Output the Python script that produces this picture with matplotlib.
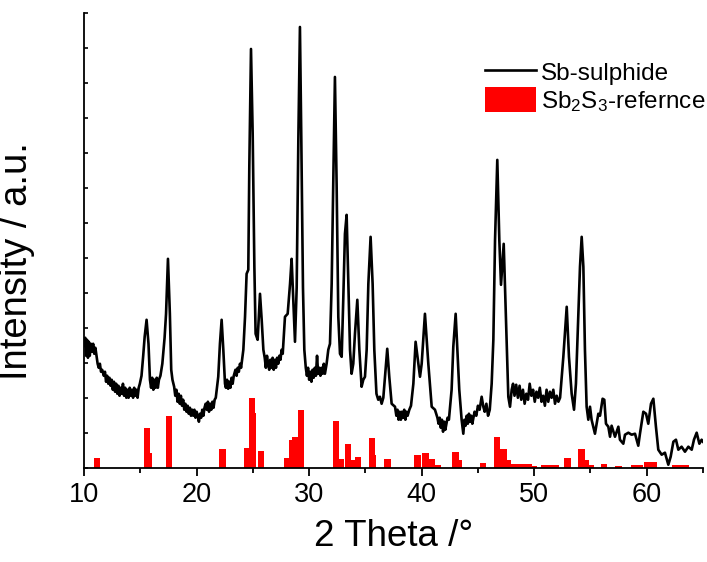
import matplotlib
matplotlib.use("Agg")
import matplotlib.pyplot as plt
from matplotlib.patches import Patch
from matplotlib.lines import Line2D
from matplotlib.ticker import MultipleLocator

plt.rcParams['font.family'] = ['Liberation Sans', 'DejaVu Sans']

# measured pattern (2 theta in degrees, intensity a.u.)
two_theta = [
    10.00, 10.10, 10.18, 10.26, 10.34, 10.42, 10.50, 10.60, 10.70, 10.80,
    10.90, 11.00, 11.10, 11.20, 11.30, 11.40, 11.50, 11.60, 11.75, 11.85,
    11.95, 12.05, 12.15, 12.25, 12.35, 12.45, 12.55, 12.65, 12.75, 12.85,
    12.95, 13.05, 13.15, 13.25, 13.35, 13.45, 13.55, 13.65, 13.75, 13.85,
    13.95, 14.05, 14.15, 14.25, 14.35, 14.45, 14.55, 14.65, 14.75, 14.85,
    14.95, 15.10, 15.25, 15.38, 15.55, 15.72, 15.85, 15.95, 16.05, 16.15,
    16.25, 16.35, 16.45, 16.55, 16.65, 16.78, 16.95, 17.15, 17.28, 17.45,
    17.62, 17.74, 17.85, 18.00, 18.10, 18.20, 18.30, 18.40, 18.50, 18.60,
    18.70, 18.80, 18.90, 19.00, 19.10, 19.20, 19.30, 19.40, 19.50, 19.60,
    19.70, 19.80, 19.90, 20.00, 20.10, 20.20, 20.30, 20.40, 20.50, 20.60,
    20.70, 20.80, 20.90, 21.00, 21.10, 21.20, 21.30, 21.40, 21.50, 21.60,
    21.70, 21.92, 22.07, 22.22, 22.37, 22.52, 22.60, 22.70, 22.80, 22.90,
    23.00, 23.10, 23.20, 23.30, 23.45, 23.55, 23.65, 23.75, 23.85, 23.95,
    24.15, 24.30, 24.44, 24.59, 24.68, 24.83, 24.98, 25.13, 25.24, 25.42,
    25.63, 25.78, 25.93, 26.05, 26.15, 26.25, 26.35, 26.45, 26.55, 26.65,
    26.75, 26.85, 26.95, 27.05, 27.15, 27.25, 27.35, 27.45, 27.55, 27.65,
    27.85, 28.09, 28.30, 28.44, 28.59, 28.74, 28.89, 29.04, 29.18, 29.30,
    29.45, 29.57, 29.70, 29.80, 29.90, 30.00, 30.10, 30.20, 30.30, 30.40,
    30.50, 30.60, 30.70, 30.80, 30.90, 31.00, 31.10, 31.20, 31.30, 31.40,
    31.55, 31.70, 31.85, 32.00, 32.14, 32.29, 32.44, 32.59, 32.74, 32.89,
    33.03, 33.18, 33.33, 33.48, 33.63, 33.77, 33.92, 34.07, 34.28, 34.46,
    34.66, 34.81, 34.96, 35.11, 35.26, 35.46, 35.64, 35.79, 35.98, 36.14,
    36.29, 36.44, 36.59, 36.74, 36.94, 37.12, 37.33, 37.63, 37.75, 37.85,
    37.95, 38.05, 38.15, 38.25, 38.35, 38.45, 38.55, 38.65, 38.75, 38.90,
    39.05, 39.26, 39.46, 39.70, 39.85, 40.00, 40.29, 40.59, 40.89, 41.18,
    41.40, 41.50, 41.60, 41.70, 41.80, 41.90, 42.00, 42.10, 42.20, 42.30,
    42.42, 42.66, 42.81, 43.02, 43.20, 43.34, 43.55, 43.70, 43.80, 43.90,
    44.00, 44.10, 44.20, 44.30, 44.40, 44.50, 44.60, 44.70, 44.85, 45.00,
    45.15, 45.33, 45.48, 45.60, 45.75, 45.90, 46.05, 46.22, 46.37, 46.52,
    46.72, 46.90, 47.05, 47.29, 47.46, 47.70, 47.85, 48.00, 48.12, 48.25,
    48.40, 48.55, 48.70, 48.85, 49.00, 49.15, 49.30, 49.45, 49.60, 49.75,
    49.90, 50.05, 50.20, 50.35, 50.50, 50.65, 50.80, 50.95, 51.10, 51.25,
    51.40, 51.55, 51.70, 51.85, 52.00, 52.15, 52.30, 52.59, 52.89, 53.09,
    53.33, 53.54, 53.71, 53.92, 54.07, 54.22, 54.37, 54.51, 54.66, 54.81,
    54.96, 55.10, 55.40, 55.70, 55.85, 56.08, 56.23, 56.38, 56.59, 56.74,
    56.88, 57.18, 57.48, 57.62, 57.92, 58.07, 58.37, 58.66, 58.96, 59.25,
    59.40, 59.70, 59.94, 60.14, 60.38, 60.59, 60.82, 61.03, 61.33, 61.62,
    61.92, 62.13, 62.37, 62.60, 62.81, 63.10, 63.40, 63.70, 64.00, 64.20,
    64.44, 64.68, 64.88, 65.00,
]
intensity = [
    122, 130, 112, 128, 110, 126, 112, 124, 116, 124,
    114, 120, 112, 104, 100, 104, 96, 98, 92, 96,
    86, 92, 84, 90, 82, 88, 78, 86, 76, 84,
    74, 82, 72, 80, 74, 84, 72, 80, 70, 78,
    70, 80, 72, 78, 70, 80, 72, 78, 70, 80,
    84, 92, 112, 131, 148, 124, 88, 80, 90, 78,
    88, 80, 90, 80, 88, 92, 104, 130, 154, 209,
    154, 98, 88, 81, 72, 78, 66, 74, 64, 72,
    62, 68, 58, 64, 56, 62, 54, 60, 52, 58,
    52, 58, 50, 56, 52, 46, 54, 50, 58, 52,
    60, 64, 58, 66, 56, 64, 58, 66, 60, 68,
    70, 91, 124, 148, 118, 84, 80, 88, 79, 86,
    80, 90, 84, 92, 98, 92, 100, 96, 104, 100,
    118, 151, 194, 198, 301, 419, 334, 201, 134, 128,
    174, 148, 118, 110, 100, 112, 104, 98, 108, 100,
    110, 98, 108, 100, 110, 104, 112, 108, 118, 114,
    151, 154, 184, 209, 168, 126, 180, 330, 441, 330,
    180, 118, 100, 92, 100, 88, 96, 86, 98, 90,
    100, 92, 112, 94, 100, 92, 100, 94, 104, 94,
    104, 118, 124, 184, 284, 391, 284, 151, 114, 111,
    168, 234, 253, 184, 118, 94, 104, 134, 168, 118,
    81, 88, 91, 118, 184, 231, 184, 118, 74, 68,
    71, 64, 70, 91, 119, 91, 64, 61, 52, 58,
    48, 56, 48, 56, 50, 58, 48, 56, 52, 58,
    62, 84, 126, 104, 91, 104, 154, 104, 61, 58,
    50, 44, 50, 40, 48, 36, 46, 38, 44, 50,
    48, 78, 121, 154, 111, 78, 48, 34, 48, 42,
    52, 44, 54, 46, 52, 44, 50, 56, 52, 62,
    58, 71, 61, 56, 64, 52, 58, 84, 128, 228,
    308, 228, 183, 224, 161, 71, 61, 78, 84, 72,
    83, 70, 82, 68, 78, 64, 74, 68, 84, 72,
    78, 66, 76, 70, 80, 66, 72, 62, 78, 66,
    76, 70, 78, 64, 72, 66, 70, 111, 161, 111,
    74, 58, 84, 151, 201, 231, 201, 118, 61, 48,
    61, 48, 34, 54, 52, 69, 68, 44, 41, 31,
    42, 31, 41, 28, 24, 33, 35, 33, 34, 22,
    34, 56, 54, 44, 64, 69, 41, 18, 13, 15,
    3, 11, 26, 28, 18, 21, 16, 21, 18, 28,
    35, 24, 28, 26,
]

# reference Sb2S3 lines
ref_theta = [
    11.13, 15.57, 15.75, 17.52, 22.29, 24.45, 24.90, 25.00, 25.73, 28.04,
    28.48, 28.77, 29.25, 32.37, 32.78, 33.42, 33.90, 34.37, 35.55, 35.67,
    36.97, 39.63, 40.34, 40.93, 41.40, 43.00, 43.30, 45.48, 46.70, 47.28,
    47.70, 48.10, 48.50, 49.00, 49.50, 50.00, 50.90, 51.40, 51.90, 52.96,
    54.20, 54.60, 55.00, 56.20, 57.50, 58.90, 59.40, 60.00, 60.60, 62.50,
    63.00, 63.50,
]
ref_height = [
    10, 40, 15, 52, 19, 20, 70, 55, 17, 10,
    28, 31, 58, 47, 9, 24, 8, 11, 30, 13,
    9, 13, 15, 9, 3, 16, 8, 5, 31, 19,
    8, 4, 4, 4, 3.5, 2, 2.5, 2.3, 2.3, 10,
    19, 8, 2.7, 3.3, 1.7, 2.3, 2.3, 5.3, 6, 2.3,
    2.3, 2.3,
]

fig = plt.figure(figsize=(7.07, 5.62), dpi=100)
ax = fig.add_axes([0.119, 0.1678, 0.8753, 0.8091])

ax.bar(ref_theta, ref_height, width=0.55, color='#ff0000', linewidth=0, zorder=2)
ax.plot(two_theta, intensity, color='black', lw=1.9, zorder=3)

ax.set_xlim(10, 65)
ax.set_ylim(0, 455)
ax.xaxis.set_major_locator(MultipleLocator(10))
ax.xaxis.set_minor_locator(MultipleLocator(5))
ax.yaxis.set_major_locator(MultipleLocator(35))
ax.set_yticklabels([])

for side in ['top', 'right']:
    ax.spines[side].set_visible(False)
for side in ['left', 'bottom']:
    ax.spines[side].set_linewidth(1.3)

ax.tick_params(axis='x', which='major', direction='out', length=6, width=1.3,
               labelsize=19.5, pad=4)
ax.tick_params(axis='x', which='minor', direction='out', length=3.5, width=1.3)
ax.tick_params(axis='y', which='major', direction='in', length=3, width=1.2)

ax.set_xlabel('2 Theta /°', fontsize=26.5, labelpad=8)
ax.set_ylabel('Intensity / a.u.', fontsize=27.5)
ax.yaxis.set_label_coords(-0.08, 0.455)

handles = [Line2D([], [], color='black', lw=1.9),
           Patch(facecolor='#ff0000', edgecolor='none')]
labels = ['Sb-sulphide', r'$\mathregular{Sb_2S_3}$-refernce']
ax.legend(handles, labels, loc='upper left', bbox_to_anchor=(0.648, 0.898),
          frameon=False, fontsize=17.5, borderpad=0, borderaxespad=0,
          handlelength=2.1, handleheight=1.25, handletextpad=0.2,
          labelspacing=0.05)

fig.savefig('out.png', dpi=100)
